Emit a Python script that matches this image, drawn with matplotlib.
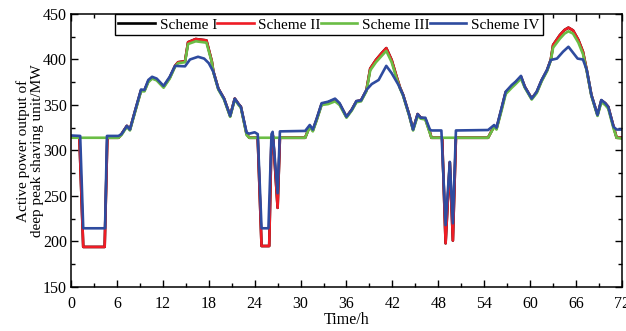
import matplotlib
matplotlib.use('Agg')
from matplotlib import pyplot as plt
from matplotlib.ticker import MultipleLocator

# (time in h, active power in MW)
scheme2 = [
    (0, 315), (1.1, 314), (1.6, 194), (4.4, 194), (4.75, 314),
    (6.2, 314), (6.6, 318), (7.3, 327), (7.7, 323), (8.4, 344), (9.15, 366), (9.6, 366),
    (10.1, 376), (10.6, 380), (11.2, 378), (12.1, 370), (12.9, 380), (13.6, 393), (14.0, 397),
    (14.9, 398), (15.3, 419), (16.3, 422.5), (17.7, 421), (18.4, 398), (18.6, 387), (19.25, 368),
    (20.0, 357), (20.8, 338), (21.4, 357), (21.9, 351), (22.2, 348), (22.95, 318), (23.3, 314),
    (24.4, 314), (24.9, 195), (25.9, 195), (26.2, 314), (26.4, 316), (27.0, 237), (27.3, 314),
    (30.6, 314), (31.2, 327), (31.6, 322), (32.1, 334), (32.75, 351), (33.6, 353), (34.5, 356),
    (35.1, 351), (36.0, 337), (36.7, 345), (37.3, 354), (37.9, 355), (38.6, 366), (39.1, 390),
    (39.85, 399.5), (40.6, 407), (41.2, 412.5), (41.9, 399.5), (42.55, 381), (43.0, 369),
    (43.4, 361), (44.2, 339), (44.7, 323), (45.3, 340), (45.7, 336), (46.3, 335), (46.9, 320),
    (47.1, 314), (48.5, 314), (48.95, 198), (49.5, 287), (49.9, 201), (50.3, 314),
    (54.5, 314), (55.3, 327), (55.6, 324), (56.3, 347), (56.8, 364), (57.6, 371), (58.1, 375),
    (58.8, 381), (59.3, 370), (60.2, 357), (60.85, 364), (61.5, 377), (62.2, 388), (62.7, 400),
    (63.0, 416), (63.9, 427), (64.5, 432.5), (65.0, 435), (65.6, 432), (66.3, 421.5),
    (66.9, 408.5), (67.4, 388), (68.0, 361), (68.8, 339), (69.3, 355), (69.8, 352), (70.2, 348),
    (70.9, 326), (71.3, 314), (72, 314),
]

# Scheme I is completely hidden under Scheme II in the picture
scheme1 = list(scheme2)

scheme3 = [
    (0, 314), (6.2, 314), (6.6, 317), (7.3, 326), (7.7, 322), (8.4, 343), (9.15, 365),
    (9.6, 365), (10.1, 375), (10.6, 379), (11.2, 377), (12.1, 369), (12.9, 379), (13.6, 392),
    (14.0, 396), (14.9, 397), (15.3, 417), (16.3, 420), (17.7, 418.5), (18.4, 397), (18.6, 386),
    (19.25, 367), (20.0, 356), (20.8, 337), (21.4, 356), (21.9, 350), (22.2, 347), (22.95, 317),
    (23.3, 314), (30.6, 314), (31.2, 326), (31.6, 321), (32.1, 333), (32.75, 350), (33.6, 351),
    (34.5, 354), (35.1, 350), (36.0, 336), (36.7, 344), (37.3, 353), (37.9, 354), (38.6, 365),
    (39.1, 388), (39.85, 397), (40.6, 404), (41.2, 409.5), (41.9, 397), (42.55, 379),
    (43.0, 368), (43.4, 360), (44.2, 338), (44.7, 322), (45.3, 338), (45.7, 335), (46.3, 334),
    (46.9, 319), (47.1, 314), (54.5, 314), (55.3, 326), (55.6, 323), (56.3, 345), (56.8, 362),
    (57.6, 369), (58.1, 373), (58.8, 379), (59.3, 369), (60.2, 356), (60.85, 363), (61.5, 376),
    (62.2, 387), (62.7, 399), (63.0, 413), (63.9, 423), (64.5, 428.5), (65.0, 431),
    (65.6, 428.5), (66.3, 418.5), (66.9, 406), (67.4, 387), (68.0, 360), (68.8, 338),
    (69.3, 353), (69.8, 350), (70.2, 346), (70.9, 324), (71.3, 314), (72, 313),
]

scheme4 = [
    (0, 316.5), (1.2, 316), (1.6, 214.5), (4.45, 214.5), (4.7, 316),
    (6.2, 316), (6.6, 318), (7.3, 327), (7.7, 323), (8.4, 344.5), (9.15, 367), (9.6, 366.5),
    (10.1, 377.5), (10.6, 381), (11.2, 379), (12.1, 371), (12.9, 381), (13.6, 393),
    (14.9, 392.5), (15.55, 400), (16.6, 403), (17.4, 401), (18.0, 396), (18.6, 386.6),
    (19.25, 368), (20.0, 357), (20.8, 338), (21.4, 357), (21.9, 351), (22.2, 348),
    (22.95, 319.6), (23.3, 318.5), (24.0, 320), (24.4, 318), (24.9, 214.5), (25.8, 214.5),
    (26.2, 318), (26.35, 320.5), (27.0, 253), (27.3, 321),
    (30.6, 321.5), (31.2, 328), (31.6, 323), (32.1, 335), (32.75, 352), (33.6, 353.6),
    (34.5, 357), (35.1, 352), (36.0, 337), (36.7, 345), (37.3, 354.4), (37.9, 355),
    (38.6, 366.5), (39.3, 373), (40.2, 377.5), (41.2, 393), (41.9, 385), (42.8, 372),
    (43.4, 361), (44.2, 339), (44.7, 323), (45.3, 340), (45.7, 336), (46.3, 336), (46.9, 323),
    (47.1, 322), (48.4, 322), (48.95, 218), (49.5, 287.5), (49.9, 220), (50.3, 322),
    (54.5, 322.5), (55.3, 328), (55.6, 325), (56.3, 348), (56.8, 364.6), (57.6, 372),
    (58.1, 375.6), (58.8, 382), (59.3, 370), (60.2, 357), (60.85, 364.6), (61.5, 377.5),
    (62.2, 388.5), (62.7, 399.5), (63.5, 401), (64.3, 408.6), (65.0, 414), (65.5, 408.6),
    (66.2, 401), (66.9, 400), (67.4, 388.5), (68.0, 361), (68.8, 339), (69.3, 355.5),
    (69.8, 352), (70.2, 348), (70.9, 326), (71.3, 323), (72, 323),
]

labels = ['Scheme I', 'Scheme II', 'Scheme III', 'Scheme IV']
colors = ['#000000', '#ee1c25', '#6abd45', '#2e4b9f']

plt.rcParams['font.family'] = ['Liberation Serif', 'DejaVu Serif']

fig = plt.figure(figsize=(6.26, 3.31), dpi=100)
ax = fig.add_axes([0.1134, 0.133, 0.8802, 0.8247])

for data, lab, c in zip([scheme1, scheme2, scheme3, scheme4], labels, colors):
    t = [p[0] for p in data]
    v = [p[1] for p in data]
    ax.plot(t, v, color=c, lw=1.9, label=lab, solid_joinstyle='round')

ax.set_xlim(0, 72)
ax.set_ylim(150, 450)
ax.xaxis.set_major_locator(MultipleLocator(6))
ax.xaxis.set_minor_locator(MultipleLocator(3))
ax.yaxis.set_major_locator(MultipleLocator(50))
ax.yaxis.set_minor_locator(MultipleLocator(25))
ax.tick_params(which='both', direction='in', top=True, right=True, labelsize=11.5, width=1)
ax.tick_params(which='major', length=5)
ax.tick_params(which='minor', length=3)
ax.tick_params(axis='x', which='major', pad=6.5)
ax.tick_params(axis='y', which='major', pad=3)
for s in ax.spines.values():
    s.set_linewidth(1.1)

ax.set_xlabel('Time/h', fontsize=11.5, labelpad=0)
ax.set_ylabel('Active power output of\ndeep peak shaving unit/MW', fontsize=11,
              labelpad=-1, linespacing=1.1)

leg = ax.legend(ncol=4, loc='upper center', bbox_to_anchor=(0.468, 1.0), fontsize=11,
                frameon=True, fancybox=False, borderaxespad=0, handlelength=2.4,
                handletextpad=0.3, columnspacing=0.0, borderpad=0.25, framealpha=1)
leg.get_frame().set_edgecolor('black')
leg.get_frame().set_linewidth(1)

fig.savefig('out.png', dpi=100)
